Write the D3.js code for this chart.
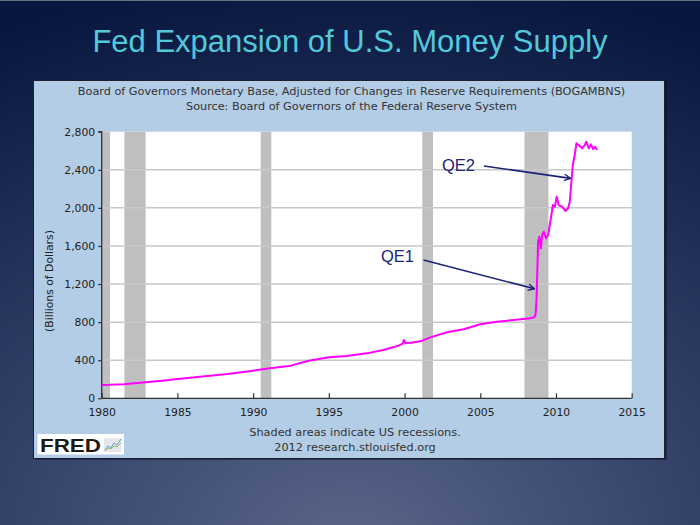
<!DOCTYPE html>
<html>
<head>
<meta charset="utf-8">
<script src="https://cdn.jsdelivr.net/npm/d3@7"></script>
<style>
html,body{margin:0;padding:0;background:#0c1a42;}
svg{display:block;}
</style>
</head>
<body>
<svg id="chart" width="700" height="525"></svg>
<script>
// ---- data ----
const title = "Fed Expansion of U.S. Money Supply";
const headerLines = [
  "Board of Governors Monetary Base, Adjusted for Changes in Reserve Requirements (BOGAMBNS)",
  "Source: Board of Governors of the Federal Reserve System"
];
const footerLines = ["Shaded areas indicate US recessions.", "2012 research.stlouisfed.org"];
const yAxisLabel = "(Billions of Dollars)";
const xTicks = [1980, 1985, 1990, 1995, 2000, 2005, 2010, 2015];
const yTicks = [0, 400, 800, 1200, 1600, 2000, 2400, 2800];
const recessionStarts = [1980.0, 1981.5, 1990.5, 2001.17, 2007.92];
const recessionEnds   = [1980.55, 1982.9, 1991.2, 2001.88, 2009.5];
const years = [1980.0,1980.5,1981.0,1981.5,1982.0,1982.9,1984.0,1985.0,1986.5,1988.3,1990.0,1991.1,1992.5,1993.6,1995.0,1996.2,1997.5,1998.6,1999.6,1999.88,1999.95,2000.06,2000.5,2001.05,2001.7,2002.8,2003.9,2005.0,2006.1,2007.2,2008.3,2008.55,2008.65,2008.72,2008.76,2008.82,2008.9,2009.0,2009.09,2009.19,2009.35,2009.48,2009.59,2009.7,2009.79,2009.92,2010.05,2010.18,2010.4,2010.63,2010.8,2010.91,2011.02,2011.11,2011.24,2011.35,2011.5,2011.73,2011.9,2012.0,2012.17,2012.3,2012.45,2012.58,2012.72];
const base  = [140,142,146,148,155,168,185,203,227,255,290,315,343,392,430,444,472,507,553,575,612,577,585,598,640,693,725,777,805,822,840,850,875,1050,1295,1645,1697,1575,1715,1750,1680,1715,1820,1925,2030,2012,2118,2030,2012,1967,1995,2065,2275,2450,2555,2678,2660,2625,2660,2695,2625,2667,2618,2642,2608];
const annotationLabels = ["QE1", "QE2"];
const annotationYears  = [2008.71, 2011.1];
const annotationValues = [1150, 2310];

// ---- drawing ----
const svg = d3.select("#chart");
const defs = svg.append("defs");
const bg = defs.append("radialGradient").attr("id","bg")
  .attr("cx","50%").attr("cy","105%").attr("r","110%").attr("fx","50%").attr("fy","105%");
bg.append("stop").attr("offset","0%").attr("stop-color","#5a6689");
bg.append("stop").attr("offset","45%").attr("stop-color","#34426a");
bg.append("stop").attr("offset","100%").attr("stop-color","#08173f");
svg.append("rect").attr("width",700).attr("height",525).attr("fill","url(#bg)");
svg.append("line").attr("x1",0).attr("x2",700).attr("y1",0.5).attr("y2",0.5).attr("stroke","#6a7088").attr("stroke-width",1);

svg.append("text").attr("x",350).attr("y",52).attr("text-anchor","middle")
  .attr("font-family","Liberation Sans, Arial, sans-serif").attr("font-size",31)
  .attr("fill","#52c9db").text(title);

// panel
svg.append("rect").attr("x",35).attr("y",82).attr("width",632).attr("height",378).attr("fill","#0a0f22").attr("opacity",0.5);
svg.append("rect").attr("x",33.5).attr("y",80.5).attr("width",631).attr("height",378)
  .attr("fill","#b4cde6").attr("stroke","#1b2030").attr("stroke-width",1);

const chartFont = "DejaVu Sans, Verdana, sans-serif";
const header = svg.append("g").attr("font-family",chartFont).attr("font-size",11.25).attr("fill","#333").attr("text-anchor","middle");
header.selectAll("text").data(headerLines).join("text")
  .attr("x",351.5).attr("y",(d,i)=>94.5+i*15).text(d=>d);

const plot = {left:101.7, right:631.7, top:131.7, bottom:398.3};
const x = d3.scaleLinear().domain([1980,2015]).range([plot.left, plot.right]);
const y = d3.scaleLinear().domain([0,2800]).range([plot.bottom, plot.top]);

svg.append("rect").attr("x",plot.left).attr("y",plot.top)
  .attr("width",plot.right-plot.left).attr("height",plot.bottom-plot.top).attr("fill","#ffffff");

// recessions
svg.append("g").selectAll("rect").data(recessionStarts).join("rect")
  .attr("x",(d)=>x(d)).attr("y",plot.top)
  .attr("width",(d,i)=>x(recessionEnds[i])-x(d)).attr("height",plot.bottom-plot.top)
  .attr("fill","#bfbfbf");

// gridlines
svg.append("g").selectAll("line").data(yTicks.filter(t=>t>0 && t<2800)).join("line")
  .attr("x1",plot.left).attr("x2",plot.right).attr("y1",d=>y(d)).attr("y2",d=>y(d))
  .attr("stroke","#c9c9c9").attr("stroke-width",1.5);

// y axis
const yAxis = svg.append("g").attr("transform",`translate(${plot.left},0)`)
  .call(d3.axisLeft(y).tickValues(yTicks).tickSize(3.5).tickPadding(3).tickFormat(d3.format(",")));
yAxis.select(".domain").attr("stroke","#333").attr("stroke-width",1.3).attr("d",`M-3.5,${plot.top}H0V${plot.bottom}`);
yAxis.selectAll(".tick line").attr("stroke","#333").attr("stroke-width",1.2);
yAxis.selectAll("text").attr("font-family",chartFont).attr("font-size",10.8).attr("fill","#222");

// x axis
const xAxis = svg.append("g").attr("transform",`translate(0,${plot.bottom})`)
  .call(d3.axisBottom(x).tickValues(xTicks).tickSize(-5).tickPadding(10).tickFormat(d3.format("d")));
xAxis.select(".domain").attr("stroke","#333").attr("stroke-width",1.3).attr("d",`M${plot.left},0H${plot.right}`);
xAxis.selectAll(".tick line").attr("stroke","#333").attr("stroke-width",1.2);
xAxis.selectAll("text").attr("font-family",chartFont).attr("font-size",10.8).attr("fill","#222");

svg.append("text").attr("transform","translate(52.5,281) rotate(-90)").attr("text-anchor","middle")
  .attr("font-family",chartFont).attr("font-size",10.8).attr("fill","#222").text(yAxisLabel);

// line
const lineData = years.map((yr,i)=>[yr, base[i]]);
svg.append("path").datum(lineData)
  .attr("d", d3.line().x(d=>x(d[0])).y(d=>y(d[1])))
  .attr("fill","none").attr("stroke","#ff00ff").attr("stroke-width",2).attr("stroke-linejoin","round");

// annotations
defs.append("marker").attr("id","arr").attr("viewBox","0 0 10 10").attr("refX",9).attr("refY",5)
  .attr("markerWidth",8).attr("markerHeight",8).attr("markerUnits","userSpaceOnUse").attr("orient","auto")
  .append("path").attr("d","M1,1L9,5L1,9").attr("fill","none").attr("stroke","#1a237a").attr("stroke-width",1.6);
const labelPos = [[381,262],[442,171]];
const arrowStart = [[423.5,260],[484,166]];
annotationLabels.forEach((lab,i)=>{
  svg.append("text").attr("x",labelPos[i][0]).attr("y",labelPos[i][1])
    .attr("font-family","Liberation Sans, Arial, sans-serif").attr("font-size",16.5).attr("fill","#1a237a").text(lab);
  svg.append("line").attr("x1",arrowStart[i][0]).attr("y1",arrowStart[i][1])
    .attr("x2",x(annotationYears[i])-2).attr("y2",y(annotationValues[i]))
    .attr("stroke","#1a237a").attr("stroke-width",1.6).attr("marker-end","url(#arr)");
});

// footer
const footer = svg.append("g").attr("font-family",chartFont).attr("font-size",11.3).attr("fill","#333").attr("text-anchor","middle");
footer.selectAll("text").data(footerLines).join("text")
  .attr("x",355).attr("y",(d,i)=>436+i*14.5).text(d=>d);

// FRED logo
const logo = svg.append("g");
logo.append("rect").attr("x",37.5).attr("y",434).attr("width",86.5).attr("height",20.5).attr("fill","#ffffff");
logo.append("text").attr("x",40).attr("y",451.7).attr("font-family","Liberation Sans, Arial, sans-serif")
  .attr("font-weight","bold").attr("font-size",18.5).attr("textLength",61).attr("lengthAdjust","spacingAndGlyphs")
  .attr("fill","#1a1a1a").text("FRED");
logo.append("rect").attr("x",104).attr("y",438).attr("width",17.5).attr("height",14).attr("fill","#e4e8ec");
logo.append("path").attr("d","M105,450 L108,446 L111,448 L114,443 L117,445 L121,439").attr("fill","none").attr("stroke","#6a9ad0").attr("stroke-width",1);
logo.append("path").attr("d","M105,451 L108,448 L111,449 L114,446 L117,447 L121,443").attr("fill","none").attr("stroke","#8cc060").attr("stroke-width",1);
</script>
</body>
</html>
